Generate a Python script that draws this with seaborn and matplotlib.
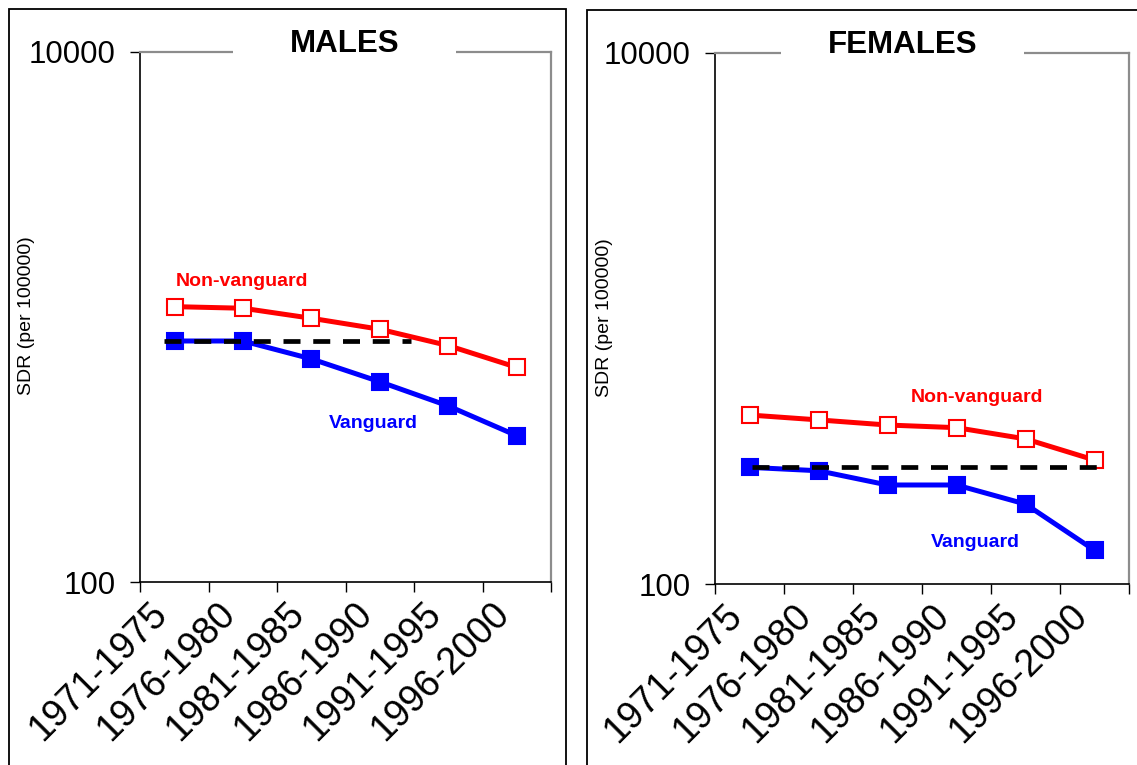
import numpy as np
import pandas as pd
import matplotlib
matplotlib.use("Agg")
import matplotlib.pyplot as plt
import matplotlib.transforms as mtransforms
from matplotlib.patches import Rectangle
from matplotlib.ticker import NullLocator, FixedLocator
import seaborn as sns

# ---------------- data ----------------
periods = ['1971-1975', '1976-1980', '1981-1985', '1986-1990', '1991-1995', '1996-2000']
males_nonvanguard = [1094, 1079, 989, 899, 780, 646]
males_vanguard = [812, 812, 695, 570, 462, 357]
females_nonvanguard = [433, 415, 397, 388, 352, 293]
females_vanguard = [275, 267, 236, 236, 200, 134]
# horizontal extent (in category units) of the dashed reference line at the 1971-1975 vanguard level
males_ref_span = [-0.16, 3.46]
females_ref_span = [0.03, 5.14]
panel_titles = ['MALES', 'FEMALES']
y_ticks = [100, 10000]
y_tick_labels = ['100', '10000']
y_label = 'SDR (per 100000)'

# ---------------- style ----------------
sns.set_style("white")
plt.rcParams['font.family'] = ['Liberation Sans', 'DejaVu Sans']
plt.rcParams['text.color'] = 'black'
plt.rcParams['axes.labelcolor'] = 'black'
plt.rcParams['xtick.color'] = 'black'
plt.rcParams['ytick.color'] = 'black'

W, H = 1137, 765
fig = plt.figure(figsize=(W / 100, H / 100), dpi=100)
fig.patch.set_facecolor('white')


def ax_rect(x0, x1, ytop, ybot):
    return [x0 / W, 1 - ybot / H, (x1 - x0) / W, (ybot - ytop) / H]


# panel frames
fig.add_artist(Rectangle((9 / W, 1 - 775 / H), (566 - 9) / W, (775 - 9) / H,
                         transform=fig.transFigure, fill=False, ec='black', lw=1.3))
fig.add_artist(Rectangle((587 / W, 1 - 775 / H), (1160 - 587) / W, (775 - 10) / H,
                         transform=fig.transFigure, fill=False, ec='black', lw=1.3))

axL = fig.add_axes(ax_rect(140.3, 551, 51.7, 582.3))
axR = fig.add_axes(ax_rect(715, 1129, 53, 584))

RED = '#FF0000'
BLUE = '#0000FF'

panels = [
    dict(ax=axL, nv=males_nonvanguard, v=males_vanguard, span=males_ref_span,
         title=panel_titles[0], tx=0.497, gap=(0.225, 0.769), ylab_x=-0.277,
         nv_pos=(0.99, 1309), v_pos=(2.91, 382)),
    dict(ax=axR, nv=females_nonvanguard, v=females_vanguard, span=females_ref_span,
         title=panel_titles[1], tx=0.454, gap=(0.159, 0.746), ylab_x=-0.266,
         nv_pos=(3.30, 486), v_pos=(3.27, 138)),
]

xpos = np.arange(len(periods))

for p in panels:
    ax = p['ax']
    df = pd.DataFrame({'x': xpos, 'nv': p['nv'], 'v': p['v']})
    sns.lineplot(data=df, x='x', y='nv', ax=ax, color=RED, linewidth=3.6,
                 marker='s', markersize=11, markerfacecolor='white',
                 markeredgecolor=RED, markeredgewidth=1.5, zorder=3)
    sns.lineplot(data=df, x='x', y='v', ax=ax, color=BLUE, linewidth=3.6,
                 marker='s', markersize=11, markerfacecolor=BLUE,
                 markeredgecolor=BLUE, markeredgewidth=1.5, zorder=3)
    ref = pd.DataFrame({'x': p['span'], 'y': [p['v'][0], p['v'][0]]})
    sns.lineplot(data=ref, x='x', y='y', ax=ax, color='black', linewidth=3.4,
                 linestyle=(0, (3.6, 2.7)), zorder=4)

    ax.set_yscale('log')
    ax.set_ylim(100, 10000)
    ax.yaxis.set_major_locator(FixedLocator(y_ticks))
    ax.set_yticklabels(y_tick_labels)
    ax.yaxis.set_minor_locator(NullLocator())
    ax.set_xlim(-0.5, len(periods) - 0.5)
    ax.set_xticks(np.arange(-0.5, len(periods), 1.0))
    ax.set_xticklabels([])
    ax.set_xticks(xpos, minor=True)
    ax.set_xticklabels(periods, minor=True, rotation=45, ha='right', va='center',
                       rotation_mode='anchor', fontsize=27)
    ax.tick_params(axis='x', which='minor', length=0, pad=19)
    ax.tick_params(axis='x', which='major', length=7.2, width=1.0, direction='out',
                   color='black', bottom=True)
    ax.tick_params(axis='y', which='major', length=7.2, width=1.0, direction='out',
                   labelsize=22.5, pad=10.5, left=True, color='black')
    off = mtransforms.ScaledTranslation(-0.13, 0, fig.dpi_scale_trans)
    for lbl in ax.get_xticklabels(minor=True):
        lbl.set_transform(lbl.get_transform() + off)

    ax.set_xlabel('')
    ax.set_ylabel(y_label, fontsize=14, va='center')
    ax.yaxis.set_label_coords(p['ylab_x'], 0.502)

    for side in ['left', 'bottom']:
        ax.spines[side].set_color('black')
        ax.spines[side].set_linewidth(1.2)
    for side in ['top', 'right']:
        ax.spines[side].set_color('#8c8c8c')
        ax.spines[side].set_linewidth(1.6)
        ax.spines[side].set_visible(True)

    # white gap in the top frame line behind the title
    g0, g1 = p['gap']
    ax.add_patch(Rectangle((g0, 0.985), g1 - g0, 0.03, transform=ax.transAxes,
                           facecolor='white', edgecolor='none', clip_on=False, zorder=5))
    ax.text(p['tx'], 1.0, p['title'], transform=ax.transAxes, ha='center',
            va='baseline', fontsize=22.5, fontweight='bold', zorder=6)

    ax.text(p['nv_pos'][0], p['nv_pos'][1], 'Non-vanguard', color=RED, fontsize=14,
            fontweight='bold', ha='center', va='baseline')
    ax.text(p['v_pos'][0], p['v_pos'][1], 'Vanguard', color=BLUE, fontsize=14,
            fontweight='bold', ha='center', va='baseline')

fig.savefig('out.png', dpi=100, facecolor='white')
